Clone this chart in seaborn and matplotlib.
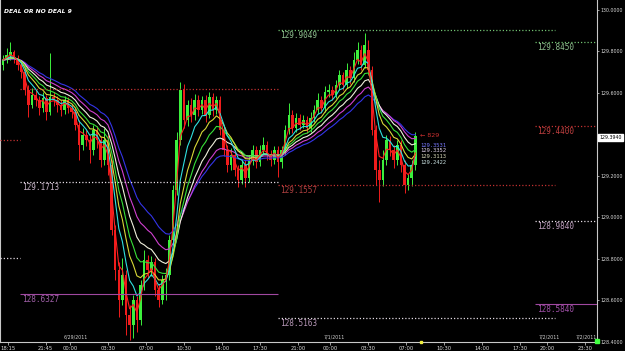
import numpy as np
import pandas as pd
import matplotlib
matplotlib.use("Agg")
import matplotlib.pyplot as plt
import seaborn as sns

# ---------------- data ----------------
opens = [129.735, 129.759, 129.783, 129.797, 129.768, 129.735, 129.701, 129.614, 129.542, 129.590,
         129.566, 129.528, 129.576, 129.508, 129.581, 129.566, 129.542, 129.518, 129.566, 129.528,
         129.508, 129.446, 129.349, 129.397, 129.373, 129.325, 129.421, 129.373, 129.277, 129.373,
         129.253, 128.940, 128.747, 128.602, 128.723, 128.530, 128.482, 128.602, 128.506, 128.675,
         128.795, 128.747, 128.785, 128.650, 128.602, 128.699, 128.723, 128.891, 129.132, 129.373,
         129.614, 129.470, 129.542, 129.494, 129.566, 129.518, 129.566, 129.494, 129.581, 129.518,
         129.566, 129.421, 129.325, 129.253, 129.301, 129.229, 129.181, 129.253, 129.190, 129.277,
         129.325, 129.267, 129.325, 129.349, 129.301, 129.277, 129.325, 129.267, 129.325, 129.421,
         129.494, 129.431, 129.479, 129.446, 129.470, 129.431, 129.479, 129.518, 129.566, 129.528,
         129.605, 129.614, 129.590, 129.638, 129.687, 129.638, 129.711, 129.672, 129.759, 129.807,
         129.735, 129.807, 129.711, 129.421, 129.229, 129.181, 129.277, 129.373, 129.325, 129.277,
         129.349, 129.253, 129.156, 129.190, 129.253]
closes = [129.759, 129.783, 129.797, 129.768, 129.735, 129.701, 129.614, 129.542, 129.590, 129.566,
          129.528, 129.576, 129.508, 129.581, 129.566, 129.542, 129.518, 129.566, 129.528, 129.508,
          129.446, 129.349, 129.397, 129.373, 129.325, 129.421, 129.373, 129.277, 129.373, 129.253,
          128.940, 128.747, 128.602, 128.723, 128.530, 128.482, 128.602, 128.506, 128.675, 128.795,
          128.747, 128.785, 128.650, 128.602, 128.699, 128.723, 128.891, 129.132, 129.373, 129.614,
          129.470, 129.542, 129.494, 129.566, 129.518, 129.566, 129.494, 129.581, 129.518, 129.566,
          129.421, 129.325, 129.253, 129.301, 129.229, 129.181, 129.253, 129.190, 129.277, 129.325,
          129.267, 129.325, 129.349, 129.301, 129.277, 129.325, 129.267, 129.325, 129.421, 129.494,
          129.431, 129.479, 129.446, 129.470, 129.431, 129.479, 129.518, 129.566, 129.528, 129.605,
          129.614, 129.590, 129.638, 129.687, 129.638, 129.711, 129.672, 129.759, 129.807, 129.735,
          129.831, 129.711, 129.421, 129.229, 129.181, 129.277, 129.373, 129.325, 129.277, 129.349,
          129.253, 129.156, 129.190, 129.253, 129.394]
highs = [129.783, 129.817, 129.846, 129.807, 129.783, 129.749, 129.720, 129.638, 129.624, 129.614,
         129.585, 129.605, 129.590, 129.793, 129.605, 129.585, 129.566, 129.585, 129.581, 129.547,
         129.528, 129.470, 129.431, 129.421, 129.397, 129.446, 129.441, 129.393, 129.431, 129.397,
         129.277, 128.964, 128.785, 128.805, 128.747, 128.578, 128.626, 128.621, 128.699, 128.843,
         128.819, 128.814, 128.805, 128.679, 128.723, 128.756, 128.915, 129.156, 129.412, 129.653,
         129.643, 129.566, 129.576, 129.595, 129.590, 129.585, 129.590, 129.605, 129.600, 129.585,
         129.585, 129.441, 129.349, 129.335, 129.325, 129.253, 129.277, 129.277, 129.301, 129.349,
         129.344, 129.349, 129.388, 129.368, 129.325, 129.344, 129.344, 129.344, 129.446, 129.552,
         129.518, 129.503, 129.499, 129.494, 129.489, 129.508, 129.542, 129.600, 129.585, 129.634,
         129.643, 129.634, 129.662, 129.711, 129.701, 129.744, 129.730, 129.797, 129.846, 129.831,
         129.889, 129.855, 129.730, 129.446, 129.277, 129.325, 129.397, 129.393, 129.349, 129.373,
         129.373, 129.277, 129.209, 129.277, 129.412]
lows = [129.711, 129.744, 129.759, 129.744, 129.711, 129.672, 129.590, 129.484, 129.528, 129.537,
        129.494, 129.508, 129.470, 129.494, 129.537, 129.508, 129.489, 129.499, 129.503, 129.479,
        129.421, 129.277, 129.325, 129.344, 129.262, 129.301, 129.335, 129.243, 129.253, 129.205,
        128.915, 128.699, 128.520, 128.578, 128.434, 128.409, 128.419, 128.448, 128.482, 128.650,
        128.708, 128.718, 128.621, 128.568, 128.583, 128.602, 128.699, 128.867, 129.108, 129.349,
        129.431, 129.441, 129.460, 129.470, 129.489, 129.499, 129.460, 129.479, 129.489, 129.499,
        129.397, 129.296, 129.219, 129.229, 129.200, 129.147, 129.161, 129.147, 129.171, 129.253,
        129.238, 129.248, 129.301, 129.277, 129.248, 129.258, 129.195, 129.238, 129.301, 129.402,
        129.407, 129.412, 129.421, 129.431, 129.407, 129.412, 129.460, 129.499, 129.503, 129.508,
        129.581, 129.566, 129.576, 129.614, 129.614, 129.624, 129.643, 129.653, 129.740, 129.711,
        129.720, 129.687, 129.397, 129.156, 129.075, 129.152, 129.253, 129.296, 129.238, 129.253,
        129.219, 129.118, 129.132, 129.152, 129.229]

# moving average spans and colours
ema_spans = [3, 6, 9, 12, 16, 21, 27]
ema_names = ["EMA3", "EMA6", "EMA9", "EMA12", "EMA16", "EMA21", "EMA27"]
ema_colors = ["#ff2020", "#30e0e0", "#d8d838", "#38e038", "#f0f0dc", "#d040d0", "#3434e8"]

# x axis (hours since 18:00 of first day)
tick_hours = [0.25, 3.75, 6, 9.5, 13, 16.5, 20, 23.5, 27, 30, 33.5, 37, 40.5, 44, 47.5, 50, 53.5]
tick_labels = ["18:15", "21:45", "00:00", "03:30", "07:00", "10:30", "14:00", "17:30", "21:00",
               "00:00", "03:30", "07:00", "10:30", "14:00", "17:30", "20:00", "23:30"]
date_labels = ["6/29/2011", "7/1/2011", "7/2/2011", "7/2/2011"]
date_hours = [5.4, 29.4, 49.2, 52.6]

ytick_vals = [130.0, 129.8, 129.6, 129.2, 129.0, 128.8, 128.6, 128.4]
ytick_labels = ["130.0000", "129.8000", "129.6000", "129.2000", "129.0000", "128.8000",
                "128.6000", "128.4000"]

# pivot levels: value, label, x-start hour, x-end hour, colour, style
level_values = [129.6190, 129.1713, 128.6327, 129.3730, 128.8050,
                129.9049, 129.1557, 128.5163,
                129.8450, 129.4400, 128.9840, 128.5840]
level_labels = ["", "129.1713", "128.6327", "", "",
                "129.9049", "129.1557", "128.5163",
                "129.8450", "129.4400", "128.9840", "128.5840"]
level_start = [1.39, 1.39, 1.39, -0.45, -0.45, 25.2, 25.2, 25.2, 48.85, 48.85, 48.85, 48.85]
level_end = [25.2, 25.2, 25.2, 1.39, 1.39, 50.7, 50.7, 50.7, 54.57, 54.57, 54.57, 54.57]
level_line_col = ["#c03030", "#e0d8e0", "#a048a0", "#c03030", "#e0d8e0",
                  "#70c070", "#c03030", "#e0d8e0",
                  "#70c070", "#c03030", "#e0d8e0", "#a048a0"]
level_text_col = ["#c04040", "#c8b4c8", "#a060a8", "#c04040", "#c8b4c8",
                  "#90c090", "#b04040", "#b898b8",
                  "#90c090", "#c04040", "#c0a0c0", "#a050a8"]
level_solid = [False, False, True, False, False, False, False, False, False, False, False, True]

last_price = "129.3940"
end_labels = ["129.3531", "129.3352", "129.3113", "129.2422"]
end_label_vals = [129.349, 129.321, 129.293, 129.267]
end_label_cols = ["#7878ff", "#e0d0e8", "#d8d8b8", "#c8e0e0"]

# ---------------- plot ----------------
sns.set_theme(style="dark", rc={"axes.facecolor": "black", "figure.facecolor": "black",
                                "axes.edgecolor": "#c0c0c0", "axes.grid": False})
plt.rcParams["font.family"] = ["DejaVu Sans"]

fig = plt.figure(figsize=(6.25, 3.51), dpi=100, facecolor="black")
ax = fig.add_axes([0.0, 9 / 351, 597 / 625, 342 / 351])
ax.set_facecolor("black")

o = np.array(opens); c = np.array(closes); h = np.array(highs); l = np.array(lows)
n = len(c)
t = np.arange(n) / 3.0 - 1.0 / 6.0
up = c >= o
cols = np.where(up, "#3cf03c", "#f01c1c")

ax.vlines(t, l, h, colors=cols, lw=0.7, zorder=2)
body = np.maximum(np.abs(c - o), 0.002)
ax.bar(t, body, bottom=np.minimum(o, c), width=0.24, color=cols, linewidth=0, zorder=2)

frames = []
s = pd.Series(c)
for name, span in zip(ema_names, ema_spans):
    frames.append(pd.DataFrame({"t": t, "v": s.ewm(span=span, adjust=False).mean().values,
                                "line": name}))
ema_df = pd.concat(frames, ignore_index=True)
sns.lineplot(data=ema_df, x="t", y="v", hue="line", palette=dict(zip(ema_names, ema_colors)),
             hue_order=ema_names[::-1], legend=False, lw=0.8, ax=ax, zorder=3)

# levels
for val, lab, x0, x1, lc, tc, solid in zip(level_values, level_labels, level_start, level_end,
                                           level_line_col, level_text_col, level_solid):
    ax.hlines(val, x0, x1, colors=lc, lw=0.8 if solid else 0.9,
              linestyles="-" if solid else (0, (1, 1.6)), zorder=4)
    if lab:
        ax.text(x0 + 0.15, val - 0.006, lab, color=tc, fontsize=5.6, va="top", ha="left",
                family="DejaVu Sans Mono", zorder=4)

ax.set_xlim(-0.45, 54.57)
ax.set_ylim(128.40, 130.048)

ax.set_xticks(tick_hours)
ax.set_xticklabels(tick_labels)
ax.yaxis.tick_right()
ax.set_yticks(ytick_vals)
ax.set_yticklabels(ytick_labels)
ax.tick_params(axis="x", colors="#d8d8d8", labelsize=3.8, length=2, width=0.5, pad=1.2,
               bottom=True)
ax.tick_params(axis="y", colors="#d8d8d8", labelsize=3.4, length=1.5, width=0.5, pad=1.0,
               right=True, left=False)
ax.set_xlabel(""); ax.set_ylabel("")
for side in ["left", "right", "bottom"]:
    ax.spines[side].set_visible(True)
    ax.spines[side].set_color("#c8c8c8")
    ax.spines[side].set_linewidth(0.8)
ax.spines["top"].set_visible(False)

# dates
for lab, hh in zip(date_labels, date_hours):
    ax.text(hh, 128.412, lab, color="#d0d0d0", fontsize=3.4, va="bottom", ha="left")

# title
ax.text(0.007, 0.975, "DEAL OR NO DEAL 9", transform=ax.transAxes, color="white",
        fontsize=4.3, fontweight="bold", fontstyle="italic", va="top", ha="left")

# last-value labels
ax.text(38.3, c[-1] + 0.003, "\u2190 829", color="#cc3030", fontsize=4.6, va="center", ha="left",
        zorder=5)
for lab, v, col in zip(end_labels, end_label_vals, end_label_cols):
    ax.text(38.3, v, lab, color=col, fontsize=4.0, va="center", ha="left",
            family="DejaVu Sans Mono", zorder=5)

# current price box on the axis
ax.text(1.004, c[-1] - 0.008, last_price, transform=ax.get_yaxis_transform(),
        color="black", fontsize=3.4, va="center", ha="left", clip_on=False, zorder=6,
        bbox=dict(boxstyle="square,pad=0.25", fc="white", ec="white"))

# markers on the time axis
ax.plot([38.35], [128.40], marker="s", ms=1.6, color="#f0f040", clip_on=False, zorder=6)
ax.plot([54.57], [128.405], marker="s", ms=3.0, color="#40ff40", clip_on=False, zorder=6)

fig.savefig("out.png", dpi=100, facecolor="black")
